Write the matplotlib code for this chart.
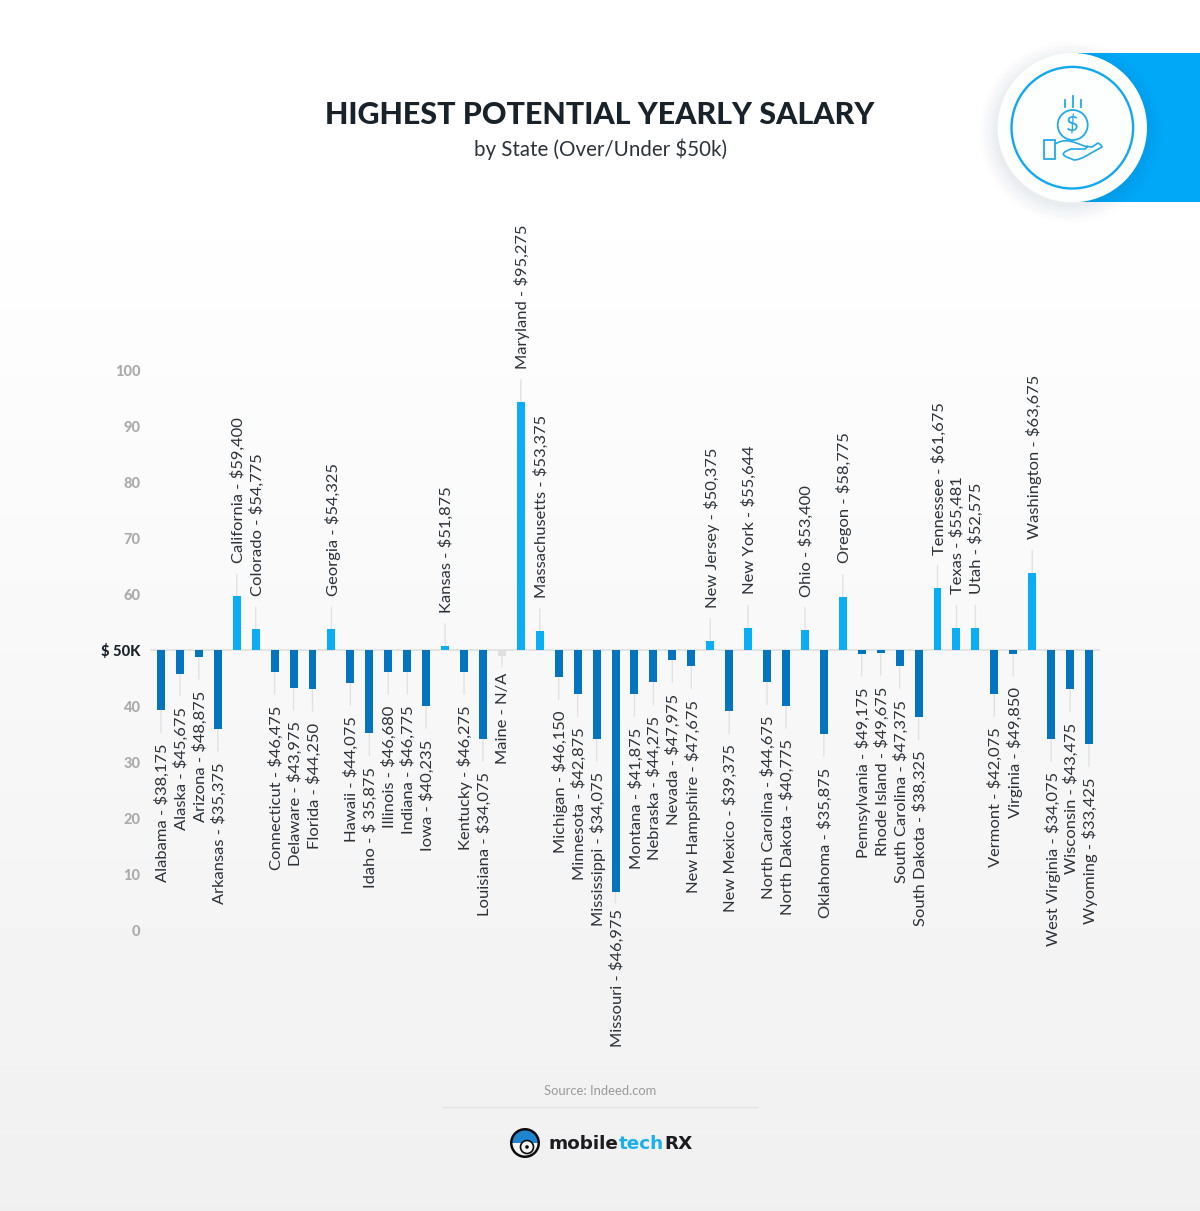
import numpy as np
import matplotlib
matplotlib.use('Agg')
import matplotlib.pyplot as plt
from matplotlib.patches import Circle, Rectangle, PathPatch, Wedge
from matplotlib.path import Path

# bar ends as drawn, in $K (the axis runs 0-100 with the base at 50)
states = ['Alabama', 'Alaska', 'Arizona', 'Arkansas', 'California', 'Colorado',
          'Connecticut', 'Delaware', 'Florida', 'Georgia', 'Hawaii', 'Idaho',
          'Illinois', 'Indiana', 'Iowa', 'Kansas', 'Kentucky', 'Louisiana',
          'Maine', 'Maryland', 'Massachusetts', 'Michigan', 'Minnesota',
          'Mississippi', 'Missouri', 'Montana', 'Nebraska', 'Nevada',
          'New Hampshire', 'New Jersey', 'New Mexico', 'New York',
          'North Carolina', 'North Dakota', 'Ohio', 'Oklahoma', 'Oregon',
          'Pennsylvania', 'Rhode Island', 'South Carolina', 'South Dakota',
          'Tennessee', 'Texas', 'Utah', 'Vermont', 'Virginia', 'Washington',
          'West Virginia', 'Wisconsin', 'Wyoming']
salaries = ['$38,175', '$45,675', '$48,875', '$35,375', '$59,400', '$54,775',
            '$46,475', '$43,975', '$44,250', '$54,325', '$44,075', '$ 35,875',
            '$46,680', '$46,775', '$40,235', '$51,875', '$46,275', '$34,075',
            'N/A', '$95,275', '$53,375', '$46,150', '$42,875', '$34,075',
            '$46,975', '$41,875', '$44,275', '$47,975', '$47,675', '$50,375',
            '$39,375', '$55,644', '$44,675', '$40,775', '$53,400', '$35,875',
            '$58,775', '$49,175', '$49,675', '$47,375', '$38,325', '$61,675',
            '$55,481', '$52,575', '$42,075', '$49,850', '$63,675', '$34,075',
            '$43,475', '$33,425']
bar_ends = [39.2, 45.8, 48.75, 35.9, 59.6, 53.7, 46.1, 43.3, 43.0, 53.7,
            44.1, 35.1, 46.1, 46.1, 40.0, 50.7, 46.1, 34.1, 49.0, 94.3,
            53.4, 45.1, 42.1, 34.1, 6.8, 42.1, 44.2, 48.2, 47.1, 51.6,
            39.1, 54.0, 44.2, 40.0, 53.6, 35.0, 59.5, 49.3, 49.5, 47.1,
            38.0, 61.1, 54.0, 54.0, 42.1, 49.3, 63.8, 34.1, 43.0, 33.2]
y_ticks = [0, 10, 20, 30, 40, 50, 60, 70, 80, 90, 100]
y_tick_labels = ['0', '10', '20', '30', '40', '$ 50K', '60', '70', '80', '90', '100']

W, H = 1200, 1211
LIGHT = '#0BADF4'
DARK = '#0474BE'
plt.rcParams['font.family'] = ['Lato', 'DejaVu Sans']

fig = plt.figure(figsize=(W / 100, H / 100), dpi=100)

# page layer, works in pixels from the top left
bg = fig.add_axes([0, 0, 1, 1])
bg.set_xlim(0, W)
bg.set_ylim(H, 0)
bg.axis('off')

grad = np.ones((H, 1))
grad[170:, 0] = np.linspace(1.0, 0.941, H - 170)
bg.imshow(grad, extent=(0, W, H, 0), aspect='auto', cmap='gray', vmin=0, vmax=1, zorder=0)

bg.add_patch(Rectangle((1078, 53), 122, 149, color='#00A8F7', lw=0, zorder=1))
cx, cy = 1072.3, 127.7
for r, a in zip(np.linspace(92, 75, 12), np.linspace(0.004, 0.012, 12)):
    bg.add_patch(Circle((cx - 2, cy + 4), r, color='#5a7a90', alpha=a, lw=0, zorder=2))
bg.add_patch(Circle((cx, cy), 74.7, color='#FDFEFE', lw=0, zorder=3))
bg.add_patch(Circle((cx, cy), 60.8, fill=False, ec='#10A9EE', lw=1.7, zorder=4))

ICON = '#22A9E8'
bg.add_patch(Circle((1072.7, 125), 15, fill=False, ec=ICON, lw=1.3, zorder=4))
bg.text(1072.7, 125, '$', color=ICON, fontsize=16, ha='center', va='center', zorder=4)
for x0, y0 in [(1064.7, 100), (1072.7, 96), (1081.3, 100)]:
    bg.plot([x0, x0], [y0, 107], color=ICON, lw=1.3, zorder=4)
bg.add_patch(Rectangle((1044, 140), 11, 19, fill=False, ec=ICON, lw=1.3, zorder=4))
hand = Path([(1055, 144), (1064, 139), (1070, 140), (1084, 146),
             (1092, 147), (1098, 143), (1101, 145), (1102, 147),
             (1092, 152), (1082, 160), (1074, 160), (1068, 157), (1055, 155),
             (1071, 149), (1085, 149), (1088, 146)],
            [Path.MOVETO, Path.CURVE4, Path.CURVE4, Path.CURVE4,
             Path.LINETO, Path.LINETO, Path.LINETO, Path.LINETO,
             Path.CURVE4, Path.CURVE4, Path.CURVE4, Path.CURVE4, Path.CURVE4,
             Path.MOVETO, Path.LINETO, Path.LINETO])
bg.add_patch(PathPatch(hand, fill=False, ec=ICON, lw=1.2, zorder=4))

bg.text(600, 115, 'HIGHEST POTENTIAL YEARLY SALARY', fontsize=21.9, fontweight='black',
        color='#18222B', ha='center', va='center')
bg.text(600, 149, 'by State (Over/Under $50k)', fontsize=14.8, color='#2B3238',
        ha='center', va='center')

bg.text(600, 1091, 'Source: Indeed.com', fontsize=9.4, color='#9A9A9A', ha='center', va='center')
bg.plot([443, 757], [1107, 1107], color='#E2E2E2', lw=1)

# logo
bg.add_patch(Circle((525, 1143), 15, color='#0B0B0D', lw=0))
bg.add_patch(Wedge((525, 1143), 12.5, 180, 360, color='#1E86D0', lw=0))
bg.add_patch(Wedge((525, 1143), 12.5, 0, 180, color='#F4F4F4', lw=0))
bg.add_patch(Circle((527, 1147), 6.5, color='#F4F4F4', ec='#0B0B0D', lw=1.2))
bg.add_patch(Circle((527, 1147), 1.8, color='#0B0B0D', lw=0))
x_logo = 548
rend = fig.canvas.get_renderer()
for part, col in [('mobile', '#1C1C20'), ('tech', '#1BB0EA'), ('RX', '#1C1C20')]:
    t = bg.text(x_logo, 1144, part, fontsize=13.2, fontweight='bold', color=col,
                family=['DejaVu Sans'], ha='left', va='center')
    ext = t.get_window_extent(rend)
    x_logo = ext.x1 + 0.5

# chart layer
ax = fig.add_axes([150 / W, (H - 930) / H, 950 / W, 560 / H])
ax.patch.set_alpha(0)
ax.set_xlim(-0.58, 49.58)
ax.set_ylim(0, 100)
for s in ax.spines.values():
    s.set_visible(False)
ax.set_xticks([])
ax.set_yticks(y_ticks)
ax.set_yticklabels(y_tick_labels, fontsize=10.5, fontweight='black', color='#ABABAB')
ax.tick_params(axis='y', length=0, pad=7)
for lab, val in zip(ax.get_yticklabels(), y_ticks):
    if val == 50:
        lab.set_color('#18222B')

ax.axhline(50, color='#E4E4E4', lw=1.5, zorder=1)

xs = np.arange(len(states))
ends = np.array(bar_ends)
colors = []
for s, e in zip(salaries, ends):
    if s == 'N/A':
        colors.append('#E0E0E0')
    elif e > 50:
        colors.append(LIGHT)
    else:
        colors.append(DARK)
ax.bar(xs, ends - 50, bottom=50, width=0.42, color=colors, zorder=3)

# these two labels sit closer to their bars
close_labels = ['Maine', 'Missouri']

for x, e, st, sal in zip(xs, ends, states, salaries):
    up = e > 50
    sign = 1 if up else -1
    lead, gap = (8, 12.5) if st in close_labels else (16, 24)
    ax.annotate('', xy=(x, e), xytext=(0, sign * lead), textcoords='offset points',
                arrowprops=dict(arrowstyle='-', color='#E2E2E2', lw=1, shrinkA=0, shrinkB=0),
                annotation_clip=False, zorder=2)
    ax.annotate(st + ' - ' + sal, xy=(x, e), xytext=(1, sign * gap), textcoords='offset points',
                rotation=90, fontsize=11.85, color='#2B3238', ha='center',
                va='bottom' if up else 'top', annotation_clip=False, zorder=4)

fig.savefig('out.png', dpi=100)
